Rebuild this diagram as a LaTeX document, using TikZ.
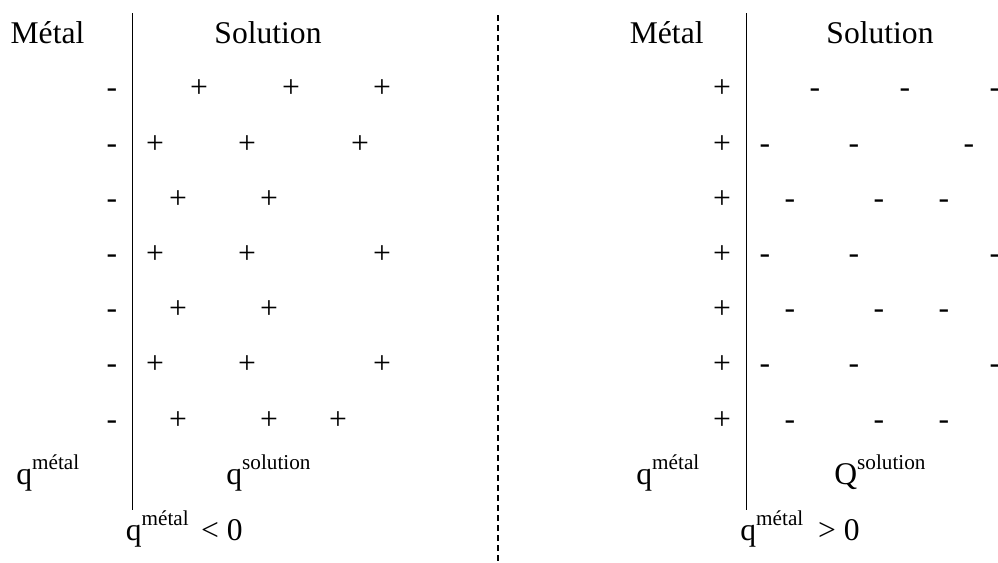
\documentclass[tikz,border=0pt]{standalone}
\usepackage{fontspec}
\setmainfont{Liberation Serif}
\newcommand{\expo}[1]{\raisebox{0.46em}{\fontsize{10.6}{12}\selectfont #1}}

\begin{document}
\begin{tikzpicture}[
    x=0.5pt, y=-0.5pt,
    txt/.style={anchor=base, inner sep=0pt, font=\fontsize{15.8}{19}\selectfont},
    qlabel/.style={txt, anchor=base west},
    charge/.style={txt},
    wall/.style={line width=0.6pt},
    divider/.style={line width=1pt, dash pattern=on 3pt off 2pt}
]
\useasboundingbox (0,0) rectangle (998,563);

% Walls
\coordinate (wallLtop) at (132.7,13);
\coordinate (wallLbot) at (132.7,510);
\coordinate (wallRtop) at (746.7,13);
\coordinate (wallRbot) at (746.7,510);
\coordinate (divtop) at (497.7,15);
\coordinate (divbot) at (497.7,563);
\draw [wall] (wallLtop) -- (wallLbot);
\draw [wall] (wallRtop) -- (wallRbot);
\draw [divider] (divtop) -- (divbot);

% Headers
\node (metalL) [txt] at (47.5,43) {Métal};
\node (solL) [txt] at (268,43) {Solution};
\node (metalR) [txt] at (666.7,43) {Métal};
\node (solR) [txt] at (880,43) {Solution};

% Left: metal (-), solution (+)
\node (lm1) [charge] at (112,97) {-};  \node (lp1a) [charge] at (199,97) {+};  \node (lp1b) [charge] at (291,97) {+};  \node (lp1c) [charge] at (382,97) {+};
\node (lm2) [charge] at (112,153) {-}; \node (lp2a) [charge] at (155,153) {+}; \node (lp2b) [charge] at (247,153) {+}; \node (lp2c) [charge] at (360,153) {+};
\node (lm3) [charge] at (112,208) {-}; \node (lp3a) [charge] at (178,208) {+}; \node (lp3b) [charge] at (269,208) {+};
\node (lm4) [charge] at (112,263) {-}; \node (lp4a) [charge] at (155,263) {+}; \node (lp4b) [charge] at (247,263) {+}; \node (lp4c) [charge] at (382,263) {+};
\node (lm5) [charge] at (112,318) {-}; \node (lp5a) [charge] at (178,318) {+}; \node (lp5b) [charge] at (269,318) {+};
\node (lm6) [charge] at (112,373) {-}; \node (lp6a) [charge] at (155,373) {+}; \node (lp6b) [charge] at (247,373) {+}; \node (lp6c) [charge] at (382,373) {+};
\node (lm7) [charge] at (112,429) {-}; \node (lp7a) [charge] at (178,429) {+}; \node (lp7b) [charge] at (269,429) {+}; \node (lp7c) [charge] at (338,429) {+};

% Right: metal (+), solution (-)
\node (rp1) [charge] at (722,97) {+};  \node (rm1a) [charge] at (815,97) {-};  \node (rm1b) [charge] at (905,97) {-};  \node (rm1c) [charge] at (995,97) {-};
\node (rp2) [charge] at (722,153) {+}; \node (rm2a) [charge] at (765,153) {-}; \node (rm2b) [charge] at (854,153) {-}; \node (rm2c) [charge] at (969,153) {-};
\node (rp3) [charge] at (722,208) {+}; \node (rm3a) [charge] at (790,208) {-}; \node (rm3b) [charge] at (879,208) {-}; \node (rm3c) [charge] at (944,208) {-};
\node (rp4) [charge] at (722,263) {+}; \node (rm4a) [charge] at (765,263) {-}; \node (rm4b) [charge] at (854,263) {-}; \node (rm4c) [charge] at (995,263) {-};
\node (rp5) [charge] at (722,318) {+}; \node (rm5a) [charge] at (790,318) {-}; \node (rm5b) [charge] at (879,318) {-}; \node (rm5c) [charge] at (944,318) {-};
\node (rp6) [charge] at (722,373) {+}; \node (rm6a) [charge] at (765,373) {-}; \node (rm6b) [charge] at (854,373) {-}; \node (rm6c) [charge] at (995,373) {-};
\node (rp7) [charge] at (722,429) {+}; \node (rm7a) [charge] at (790,429) {-}; \node (rm7b) [charge] at (879,429) {-}; \node (rm7c) [charge] at (944,429) {-};

% Charges and signs
\node (qmetalL) [qlabel] at (16,484) {q\expo{métal}};
\node (qsolL) [qlabel] at (226,484) {q\expo{solution}};
\node (signL) [qlabel] at (125.5,540) {q\expo{métal}\hspace{2.2pt} < 0};
\node (qmetalR) [qlabel] at (636,484) {q\expo{métal}};
\node (qsolR) [qlabel] at (834,484) {Q\expo{solution}};
\node (signR) [qlabel] at (740,540) {q\expo{métal}\hspace{3.5pt} > 0};

\end{tikzpicture}
\end{document}
